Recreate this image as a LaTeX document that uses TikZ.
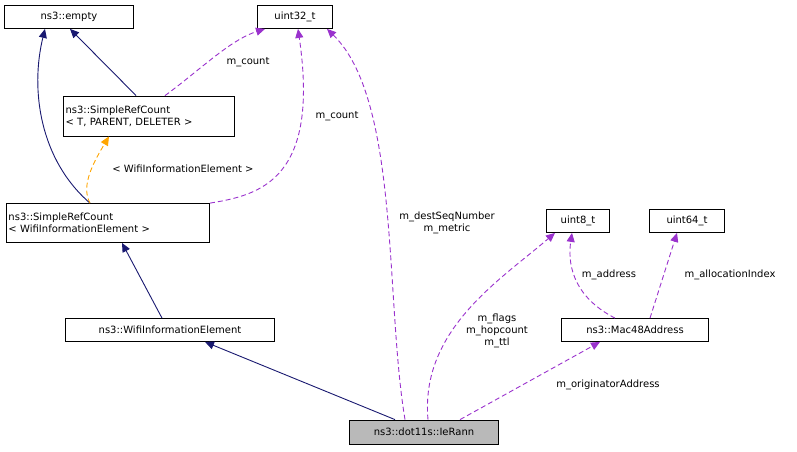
\documentclass[tikz,border=0pt]{standalone}
\usepackage{fontspec}
\setmainfont{DejaVu Sans}
\usetikzlibrary{arrows.meta}
\definecolor{inh}{HTML}{191970}
\definecolor{use}{HTML}{9A32CD}
\definecolor{tpl}{HTML}{FFA500}
\tikzset{
	cls/.style={draw, fill=white, font=\fontsize{10}{12}\selectfont, align=left, inner sep=2pt, line width=0.8pt},
	lbl/.style={font=\fontsize{10}{12}\selectfont, align=center},
	isa/.style={inh, line width=0.9pt, -{Triangle[length=9pt,width=8pt]}},
	has/.style={use, line width=0.9pt, dash pattern=on 5pt off 3pt, -{Triangle[length=9pt,width=8pt]}},
	tmp/.style={tpl, line width=0.9pt, dash pattern=on 5pt off 3pt, -{Triangle[length=9pt,width=8pt]}}
}
\begin{document}
\begin{tikzpicture}[x=1pt,y=-1pt]
	\useasboundingbox (0,0) rectangle (797,451);
	\node[cls, minimum width=129pt, minimum height=23pt] (empty) at (69,17) {ns3::empty};
	\node[cls, minimum width=75pt, minimum height=23pt] (u32) at (295,17) {uint32\_t};
	\node[cls, text width=167pt, minimum height=40pt] (srct) at (149,116) {ns3::SimpleRefCount\\\textless{} T, PARENT, DELETER \textgreater};
	\node[cls, text width=199pt, minimum height=39pt] (srcw) at (108,223) {ns3::SimpleRefCount\\\textless{} WifiInformationElement \textgreater};
	\node[cls, minimum width=209pt, minimum height=23pt] (wie) at (170,330) {ns3::WifiInformationElement};
	\node[cls, minimum width=63pt, minimum height=23pt] (u8) at (578,221) {uint8\_t};
	\node[cls, minimum width=75pt, minimum height=23pt] (u64) at (687,221) {uint64\_t};
	\node[cls, minimum width=147pt, minimum height=23pt] (mac) at (635,330) {ns3::Mac48Address};
	\node[cls, fill=gray!55, minimum width=149pt, minimum height=24pt] (rann) at (424,432) {ns3::dot11s::IeRann};
	% inheritance
	\draw[isa] (srct.north west) ++(73,0) -- ([xshift=1pt]empty.south);
	\draw[isa] ([xshift=-18pt]srcw.north) .. controls (40,160) and (30,90) .. ([xshift=-24pt]empty.south);
	\draw[isa] ([xshift=-8pt]wie.north) -- ([xshift=14pt]srcw.south);
	\draw[isa] ([xshift=-29pt]rann.north) -- ([xshift=35pt]wie.south);
	% template
	\draw[tmp] ([xshift=-18pt]srcw.north) .. controls (80,185) and (95,160) .. ([xshift=-40pt]srct.south);
	\node[lbl] (ltpl) at (183,169) {\textless{} WifiInformationElement \textgreater};
	% members
	\draw[has] ([xshift=16pt]srct.north) .. controls (200,70) and (230,40) .. ([xshift=-30pt]u32.south);
	\node[lbl] (lc1) at (248,62) {m\_count};
	\draw[has] (srcw.north east) .. controls (260,195) and (320,180) .. ([xshift=3pt]u32.south);
	\node[lbl] (lc2) at (337,116) {m\_count};
	\draw[has] ([xshift=-19pt]rann.north) .. controls (385,300) and (400,100) .. ([xshift=32pt]u32.south);
	\node[lbl] (lds) at (447,223) {m\_destSeqNumber\\m\_metric};
	\draw[has] ([xshift=4pt]rann.north) .. controls (420,330) and (500,280) .. ([xshift=-23pt]u8.south);
	\node[lbl] (lfl) at (497,331) {m\_flags\\m\_hopcount\\m\_ttl};
	\draw[has] ([xshift=36pt]rann.north) -- ([xshift=-35pt]mac.south);
	\node[lbl] (lor) at (608,385) {m\_originatorAddress};
	\draw[has] ([xshift=-20pt]mac.north) .. controls (570,295) and (568,260) .. ([xshift=-6pt]u8.south);
	\node[lbl] (lad) at (609,275) {m\_address};
	\draw[has] ([xshift=15pt]mac.north) -- ([xshift=-10pt]u64.south);
	\node[lbl] (lal) at (730,275) {m\_allocationIndex};
\end{tikzpicture}
\end{document}
